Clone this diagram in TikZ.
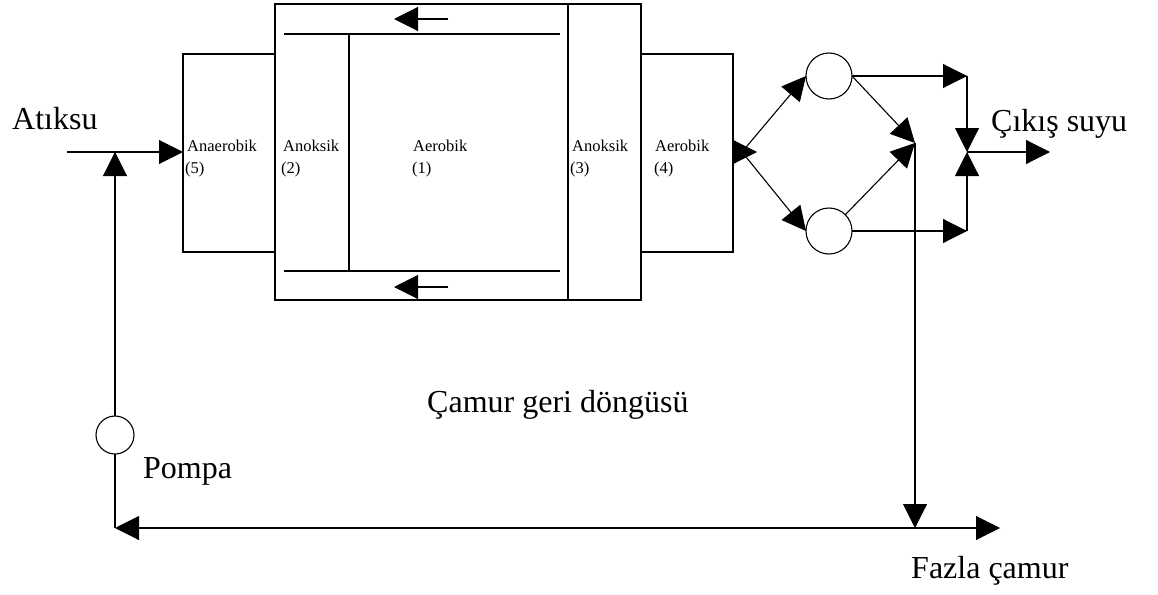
\documentclass[tikz,border=0pt]{standalone}
\usepackage{fontspec}
\setmainfont{Liberation Serif}
\usetikzlibrary{arrows.meta}
\begin{document}
\begin{tikzpicture}[x=1pt,y=-1pt,
  ln/.style={line width=1.1pt},
  arr/.style={ln,-{Triangle[length=24pt,width=24pt]}},
  darr/.style={ln,{Triangle[length=24pt,width=24pt]}-{Triangle[length=24pt,width=24pt]}},
  tank/.style={draw,ln,inner sep=0pt,outer sep=0pt},
  unit/.style={draw,ln,circle,inner sep=0pt,outer sep=0pt,minimum size=#1},
  big/.style={anchor=base west,inner sep=0pt,font=\fontsize{32}{36}\selectfont},
  small/.style={anchor=base west,inner sep=0pt,font=\fontsize{16.5}{18}\selectfont}
]
\useasboundingbox (0,0) rectangle (1158,594);
% tanks
\node[tank,minimum width=92pt,minimum height=198pt] (anae) at (229,153) {};
\node[tank,minimum width=366pt,minimum height=296pt] (main) at (458,152) {};
\node[tank,minimum width=92pt,minimum height=198pt] (aer4) at (687,153) {};
% inner partitions
\draw[ln] (568,4) -- (568,300);
\draw[ln] (284,34) -- (560,34);
\draw[ln] (284,271) -- (560,271);
\draw[ln] (349,34) -- (349,271);
% internal recycle arrows
\coordinate (ra1) at (448,19); \coordinate (rb1) at (394,19);
\coordinate (ra2) at (448,287); \coordinate (rb2) at (394,287);
\draw[arr] (ra1) -- (rb1);
\draw[arr] (ra2) -- (rb2);
% labels inside
\node[small] (l5) at (187,151) {Anaerobik};
\node[small] (n5) at (185,173) {(5)};
\node[small] (l2) at (283,151) {Anoksik};
\node[small] (n2) at (281,173) {(2)};
\node[small] (l1) at (413,151) {Aerobik};
\node[small] (n1) at (412,173) {(1)};
\node[small] (l3) at (572,151) {Anoksik};
\node[small] (n3) at (570,173) {(3)};
\node[small] (l4) at (655,151) {Aerobik};
\node[small] (n4) at (654,173) {(4)};
% clarifiers
\node[unit=46pt] (c1) at (829,76) {};
\node[unit=46pt] (c2) at (829,231) {};
\node[unit=38pt] (pump) at (115,435) {};
% coordinates
\coordinate (inl) at (67,152);
\coordinate (ine) at (183,152);
\coordinate (ret) at (115,152);
\coordinate (bl) at (115,528);
\coordinate (brr) at (1000,528);
\coordinate (sp) at (757,152);
\coordinate (spi) at (742,152);
\coordinate (cv) at (915,143);
\coordinate (cvb) at (915,528);
\coordinate (tr) at (967,76);
\coordinate (br) at (967,231);
\coordinate (jn) at (967,152);
\coordinate (out) at (1050,152);
% influent and return
\draw[arr] (inl) -- (ine);
\draw[arr] (pump.north) -- (ret);
\draw[ln] (bl) -- (pump.south);
\draw[darr] (bl) -- (brr);
% effluent side
\draw[arr] (aer4.east |- sp) -- (sp);
\draw[arr] (spi) -- (c1.west);
\draw[arr] (spi) -- (c2.west);
\draw[arr] (c1.east) -- (cv);
\draw[arr] (c2.45) -- (cv);
\draw[arr] (cv) -- (cvb);
\draw[arr] (c1.east) -- (tr);
\draw[arr] (c2.east) -- (br);
\draw[arr] (tr) -- (jn);
\draw[arr] (br) -- (jn);
\draw[arr] (jn) -- (out);
% texts
\node[big] (tin) at (12,129) {Atıksu};
\node[big] (tout) at (991,131) {Çıkış suyu};
\node[big] (tret) at (427,412) {Çamur geri döngüsü};
\node[big] (tpump) at (143,478) {Pompa};
\node[big] (twas) at (911,578) {Fazla çamur};
\end{tikzpicture}
\end{document}
